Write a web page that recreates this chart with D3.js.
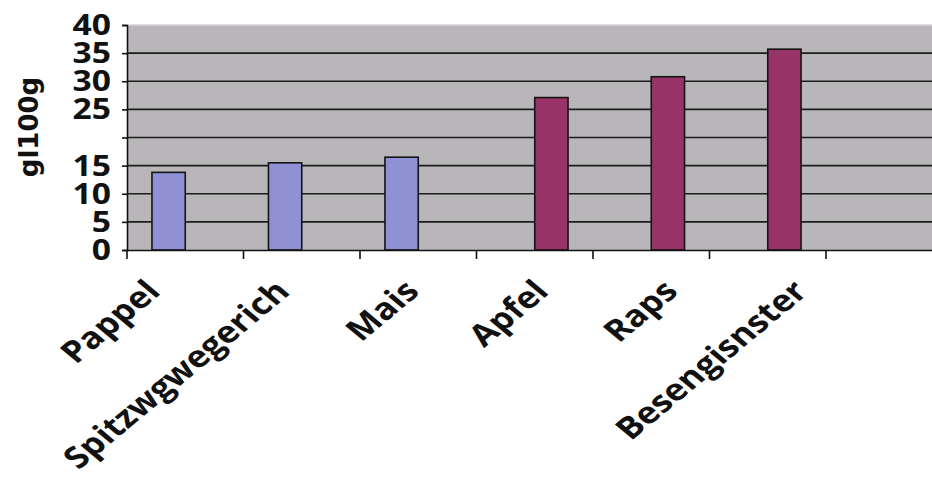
<!DOCTYPE html>
<html>
<head>
<meta charset="utf-8">
<script src="https://cdn.jsdelivr.net/npm/d3@7"></script>
<style>
  html, body { margin: 0; padding: 0; background: #ffffff; }
  svg { display: block; }
</style>
</head>
<body>
<svg id="chart" width="932" height="481"></svg>
<script>
// ---- data ----
const categories = ["Pappel", "Spitzwgwegerich", "Mais", "Apfel", "Raps", "Besengisnster"];
const seriesNames = ["s1", "s2"];
const seriesBlue = [13.8, 15.5, 16.5, null, null, null];
const seriesPurple = [null, null, null, 27.1, 30.8, 35.7];
const yTicks = [0, 5, 10, 15, 20, 25, 30, 35, 40];
const yTickLabels = ["0", "5", "10", "15", "", "25", "30", "35", "40"];
const yTitle = "gl100g";

(function () {
// ---- layout ----
const W = 932, H = 481;
const plotLeft = 127, plotTop = 25, plotBottom = 250;
const step = 116.5;
const slots = categories.length + 1;           // one empty slot at the right
const fontTitle = "'DejaVu Sans', sans-serif";
const fontCat = "'Open Sans', sans-serif";
const stretch = 1.2;                           // the original picture is widened horizontally

const svg = d3.select("#chart");

const x = d3.scaleBand()
  .domain([...categories, ""])
  .range([plotLeft, plotLeft + slots * step])
  .paddingInner(0).paddingOuter(0);

const xs = d3.scaleBand()
  .domain(seriesNames)
  .range([0, x.bandwidth()])
  .paddingInner(0).paddingOuter(0.75);

const y = d3.scaleLinear().domain([0, 40]).range([plotBottom, plotTop]);

// label positions along the bottom (as placed in the original)
const xl = d3.scalePoint().domain(categories).range([162, 809]);

// plot background
svg.append("rect")
  .attr("x", plotLeft).attr("y", y(40))
  .attr("width", W - plotLeft).attr("height", y(0) - y(40))
  .attr("fill", "#b9b6b9");

// top edge
svg.append("line")
  .attr("x1", plotLeft).attr("x2", W)
  .attr("y1", y(40)).attr("y2", y(40))
  .attr("stroke", "#d9d5d9").attr("stroke-width", 1.5);

// gridlines
svg.append("g").selectAll("line")
  .data(yTicks.filter(v => v > 0 && v < 40))
  .join("line")
  .attr("x1", plotLeft).attr("x2", W)
  .attr("y1", d => y(d)).attr("y2", d => y(d))
  .attr("stroke", "#1c1c1c").attr("stroke-width", 1.6);

// bars
const barData = [];
categories.forEach((c, i) => {
  if (seriesBlue[i] != null) barData.push({ c, s: "s1", v: seriesBlue[i], fill: "#9090d4" });
  if (seriesPurple[i] != null) barData.push({ c, s: "s2", v: seriesPurple[i], fill: "#983468" });
});
svg.append("g").selectAll("rect")
  .data(barData)
  .join("rect")
  .attr("x", d => x(d.c) + xs(d.s))
  .attr("y", d => y(d.v))
  .attr("width", xs.bandwidth())
  .attr("height", d => y(0) - y(d.v))
  .attr("fill", d => d.fill)
  .attr("stroke", "#141414").attr("stroke-width", 1.6);

// y axis (ticks + line); labels drawn separately so they can be widened
const yAxis = d3.axisLeft(y)
  .tickValues(yTicks)
  .tickSize(5)
  .tickFormat("");
const gy = svg.append("g").attr("transform", `translate(${plotLeft},0)`).call(yAxis);
gy.select(".domain").attr("stroke", "#111").attr("stroke-width", 1.6);
gy.selectAll(".tick line").attr("stroke", "#111").attr("stroke-width", 1.6);

svg.append("g").selectAll("text")
  .data(yTicks.map((v, i) => ({ v, t: yTickLabels[i] })).filter(d => d.t !== ""))
  .join("text")
  .attr("transform", d => `translate(${plotLeft - 16},${y(d.v)}) scale(${stretch},1)`)
  .attr("dy", "0.36em")
  .attr("text-anchor", "end")
  .attr("font-family", fontCat).attr("font-weight", "bold")
  .attr("font-size", 28).attr("fill", "#111")
  .text(d => d.t);

// x axis
const xAxis = d3.axisBottom(x).tickSize(0).tickFormat("");
const gx = svg.append("g").attr("transform", `translate(0,${plotBottom})`).call(xAxis);
gx.select(".domain").attr("stroke", "#111").attr("stroke-width", 1.6);
// ticks at band boundaries
svg.append("g").selectAll("line")
  .data(x.domain())
  .join("line")
  .attr("x1", d => x(d)).attr("x2", d => x(d))
  .attr("y1", plotBottom).attr("y2", plotBottom + 9)
  .attr("stroke", "#111").attr("stroke-width", 1.6);

// x labels
svg.append("g").selectAll("text")
  .data(categories)
  .join("text")
  .attr("transform", d => `translate(${xl(d)},293) scale(${stretch},1) rotate(-45)`)
  .attr("text-anchor", "end")
  .attr("font-family", fontCat).attr("font-weight", "bold")
  .attr("font-size", 30).attr("fill", "#111")
  .text(d => d);

// y title
svg.append("text")
  .attr("transform", `translate(38,127) rotate(-90)`)
  .attr("text-anchor", "middle")
  .attr("font-family", fontTitle).attr("font-weight", "bold")
  .attr("font-size", 26).attr("fill", "#111")
  .text(yTitle);
})();
</script>
</body>
</html>
